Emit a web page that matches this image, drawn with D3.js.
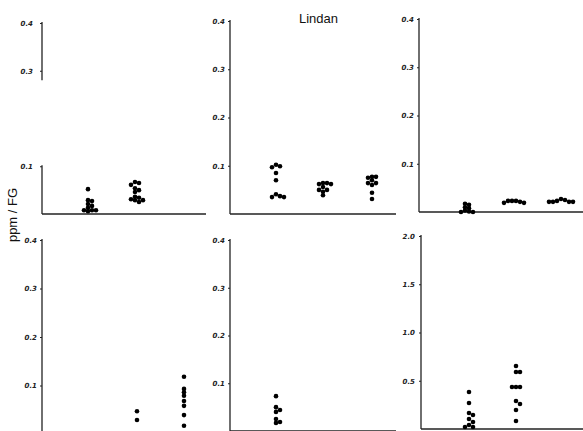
<!DOCTYPE html>
<html lang="de">
<head>
<meta charset="UTF-8">
<title>Lindan</title>
<script src="https://cdnjs.cloudflare.com/ajax/libs/d3/7.8.5/d3.min.js"></script>
<style>
body{margin:0;background:#fff;}
svg{display:block;}
.tick text{font-family:"DejaVu Sans";font-style:italic;font-weight:bold;font-size:7px;fill:#222;}
.tick line{stroke:#222;}
.lbl{font-family:"Liberation Sans",Arial,sans-serif;fill:#111;}
</style>
</head>
<body>
<svg id="chart" width="583" height="431"></svg>
<script>
// drei Gruppen pro Feld (ohne Beschriftung)
var groups = ["I", "II", "III"];

var ticksFirst = [0.1, 0.3, 0.4];
var ticksSmall = [0.1, 0.2, 0.3, 0.4];
var ticksLarge = [0.5, 1.0, 1.5, 2.0];

// Werte ppm / FG
var valuesA = [
  [0.052, 0.029, 0.027, 0.021, 0.017, 0.013, 0.008, 0.008, 0.008, 0.006],
  [0.067, 0.065, 0.061, 0.054, 0.050, 0.046, 0.036, 0.034, 0.031, 0.029, 0.029, 0.025],
  []
];
var valuesB = [
  [0.102, 0.099, 0.097, 0.085, 0.070, 0.041, 0.037, 0.035, 0.035],
  [0.064, 0.064, 0.062, 0.062, 0.056, 0.050, 0.050, 0.046, 0.039],
  [0.077, 0.077, 0.075, 0.070, 0.064, 0.064, 0.060, 0.044, 0.031]
];
var valuesC = [
  [0.017, 0.015, 0.010, 0.008, 0.003, 0.001, 0, 0],
  [0.023, 0.023, 0.023, 0.021, 0.019, 0.019],
  [0.027, 0.025, 0.023, 0.021, 0.021, 0.021, 0.021]
];
var valuesD = [
  [],
  [0.047, 0.029],
  [0.118, 0.093, 0.086, 0.079, 0.068, 0.058, 0.039, 0.017]
];
var valuesE = [
  [0.073, 0.050, 0.044, 0.040, 0.025, 0.019, 0.017],
  [],
  []
];
var valuesF = [
  [0.383, 0.269, 0.166, 0.145, 0.104, 0.073, 0.041, 0.021, 0.021],
  [0.653, 0.591, 0.591, 0.435, 0.435, 0.435, 0.290, 0.259, 0.197, 0.083],
  []
];

var svg = d3.select("#chart"),
  r = 2.3,
  minD = 3.3,
  step = 4;

var panels = [
  {data: valuesA, ticks: ticksFirst, max: 0.4, ax: 42,  top: 23,  zero: 214, right: 206, pad: 7, gap: [0.28, 0.1]},
  {data: valuesB, ticks: ticksSmall, max: 0.4, ax: 230, top: 21,  zero: 214, right: 396, pad: 3},
  {data: valuesC, ticks: ticksSmall, max: 0.4, ax: 419, top: 19,  zero: 212, right: 583, pad: 3},
  {data: valuesD, ticks: ticksSmall, max: 0.4, ax: 42,  top: 240, zero: 434, right: 206, pad: 3},
  {data: valuesE, ticks: ticksSmall, max: 0.4, ax: 230, top: 240, zero: 431, right: 396, pad: 3},
  {data: valuesF, ticks: ticksLarge, max: 2.0, ax: 421, top: 236, zero: 429, right: 583, pad: 4}
];

// einfache Punktwolke: gleiche Werte nebeneinander
function swarm(vals, y) {
  var placed = [];
  vals.slice().sort(d3.descending).forEach(function(v) {
    var py = y(v), k = 0, dx;
    while (true) {
      dx = (k % 2 ? 1 : -1) * Math.ceil(k / 2) * step;
      if (k == 0) dx = 0;
      var hit = placed.some(function(p) {
        return (p.dx - dx) * (p.dx - dx) + (p.y - py) * (p.y - py) < minD * minD;
      });
      if (!hit) break;
      k++;
    }
    placed.push({dx: dx, y: py});
  });
  var ext = d3.extent(placed, function(p) { return p.dx; });
  var mid = placed.length ? (ext[0] + ext[1]) / 2 : 0;
  placed.forEach(function(p) { p.dx -= mid; });
  return placed;
}

panels.forEach(function(p) {
  var y = d3.scaleLinear().domain([0, p.max]).range([p.zero, p.top]);
  var x = d3.scalePoint().domain(groups).range([p.ax + 48, p.ax + 142]);
  var g = svg.append("g");

  var axis = d3.axisLeft(y)
    .tickValues(p.ticks)
    .tickSize(2)
    .tickPadding(p.pad)
    .tickFormat(d3.format(".1f"));
  g.append("g")
    .attr("transform", "translate(" + p.ax + ",0)")
    .call(axis)
    .call(function(s) { s.select(".domain").remove(); });

  var segs = p.gap ? [[p.max, p.gap[0]], [p.gap[1], 0]] : [[p.max, 0]];
  segs.forEach(function(s) {
    g.append("line")
      .attr("x1", p.ax).attr("x2", p.ax)
      .attr("y1", y(s[0]) - 1).attr("y2", Math.min(y(s[1]), 431))
      .attr("stroke", "#222").attr("stroke-width", 1.3);
  });

  g.append("line")
    .attr("x1", p.ax).attr("x2", p.right)
    .attr("y1", y(0)).attr("y2", y(0))
    .attr("stroke", "#222").attr("stroke-width", 1.4);

  p.data.forEach(function(vals, i) {
    g.selectAll(null)
      .data(swarm(vals, y))
      .enter().append("circle")
      .attr("cx", function(d) { return x(groups[i]) + d.dx; })
      .attr("cy", function(d) { return d.y; })
      .attr("r", r)
      .attr("fill", "#000");
  });
});

svg.append("text")
  .attr("class", "lbl")
  .attr("x", 318.5).attr("y", 23)
  .attr("text-anchor", "middle")
  .style("font-size", "13px")
  .text("Lindan");

svg.append("text")
  .attr("class", "lbl")
  .attr("transform", "translate(17,215) rotate(-90)")
  .attr("text-anchor", "middle")
  .style("font-size", "13px")
  .text("ppm / FG");
</script>
</body>
</html>
